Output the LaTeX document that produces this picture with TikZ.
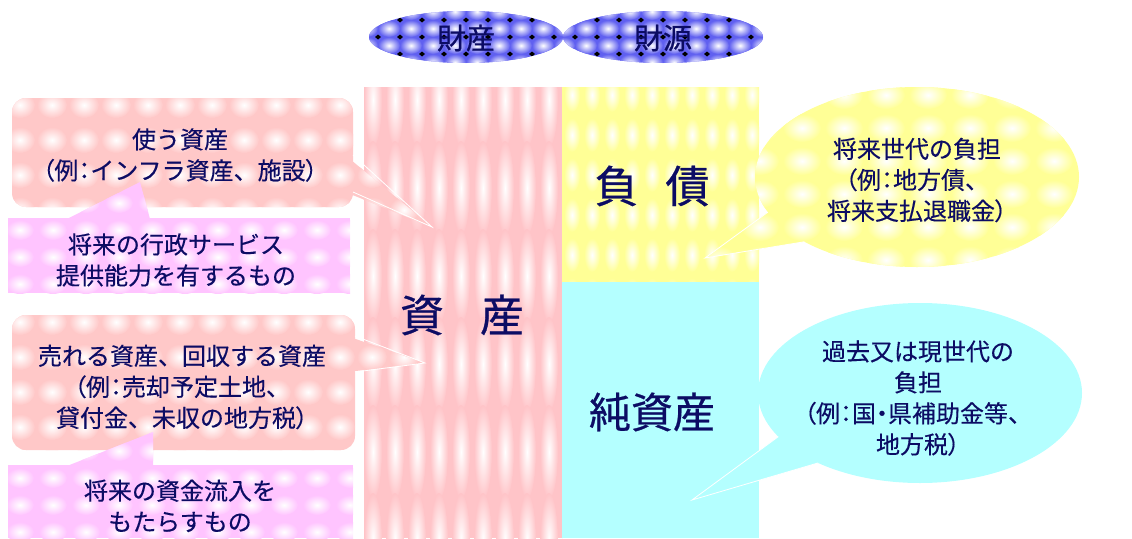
\documentclass[tikz,border=0pt]{standalone}
\usepackage{fontspec}
\setmainfont{Noto Sans CJK JP}[FakeBold=0.3]
\newfontfamily\pf{Noto Sans CJK JP}[RawFeature=+palt, FakeBold=0.3]
\newfontfamily\tf{Noto Sans CJK JP}[FakeBold=0.8]
\newfontfamily\bigfnt{Noto Sans CJK JP}[FakeBold=0.6]
\definecolor{navy}{RGB}{12,12,100}
\definecolor{pinkcol}{RGB}{255,196,200}
\definecolor{pinkc}{RGB}{255,200,200}
\definecolor{magc}{RGB}{255,196,255}
\definecolor{yelc}{RGB}{255,255,150}
\definecolor{cyanc}{RGB}{180,255,255}
\definecolor{bluec}{RGB}{96,96,240}
\newcommand\blobs[9]{%
  \foreach \i in {#1}{\foreach \j in {#2}{%
    \shade[inner color=white, outer color=#9] ({#3+(\i)*#4},{#5+(\j)*#6}) ellipse ({#7} and {#8});
  }}}
\newcommand\lp{{\pf （}}
\newcommand\rp{{\pf ）}}
\newcommand\cln{{\pf ：}}
\newcommand\nakaguro{{\pf ・}}
\tikzset{
  lbl/.style={text=navy, font=\fontsize{24pt}{31pt}\selectfont, align=center, inner sep=0pt},
  bigl/.style={text=navy, font=\bigfnt\fontsize{44pt}{50pt}\selectfont, inner sep=0pt},
  ttl/.style={text=navy, font=\tf\fontsize{29pt}{32pt}\selectfont, inner sep=0pt},
  ptredge/.style={draw=white, line width=0.8pt},
}
\begin{document}
\begin{tikzpicture}[x=1pt,y=-1pt]
\useasboundingbox (0,0) rectangle (1132,538);

% ---------- title ellipses ----------
\foreach \cx/\rx in {466/97, 663/100}{
  \fill[bluec] (\cx,37) ellipse ({\rx} and 26);
  \begin{scope}
    \clip (\cx,37) ellipse ({\rx} and 26);
    \blobs{-5,...,5}{-2,...,2}{\cx+11}{22}{45.5}{17}{11}{8.5}{bluec}
    \foreach \i in {-5,...,5}{\foreach \j in {-2,...,2}{
      \fill[black] ({\cx+\i*22},{37+\j*17}) ++(-3,0) -- ++(3,-2.5) -- ++(3,2.5) -- ++(-3,2.5) -- cycle;
    }}
  \end{scope}
}
\node[ttl] (zaisan) at (466,38) {財産};
\node[ttl] (zaigen) at (663,38) {財源};

% ---------- central column: assets ----------
\fill[pinkcol] (364,87) rectangle (562,538);
\begin{scope}
  \clip (364,87) rectangle (562,538);
  \blobs{-1,...,9}{-1,...,5}{373}{22}{100}{88}{9}{47}{pinkcol}
\end{scope}

% ---------- liabilities ----------
\fill[yelc] (562,87) rectangle (759,282);
\begin{scope}
  \clip (562,87) rectangle (759,282);
  \blobs{-1,...,10}{-1,...,5}{572}{20}{95}{40}{8}{17}{yelc}
\end{scope}

% ---------- net assets ----------
\fill[cyanc] (562,282) rectangle (759,538);

\node[bigl] (shisan) at (462,315) {資\hspace{36pt}産};
\node[bigl] (fusai) at (652,186) {負\hspace{27pt}債};
\node[bigl, font=\bigfnt\fontsize{42pt}{48pt}\selectfont] (junshisan) at (652,412) {純資産};

% ---------- pink callout 1 ----------
\fill[pinkc, rounded corners=14pt] (12,98) rectangle (353,207);
\begin{scope}
  \clip[rounded corners=14pt] (12,98) rectangle (353,207);
  \blobs{0,...,11}{-1,...,3}{20}{32}{105}{35}{15}{13}{pinkc}
\end{scope}
\fill[pinkc] (345,155) -- (432,227) -- (345,192) -- cycle;
\begin{scope}
  \clip (345,155) -- (432,227) -- (345,192) -- cycle;
  \blobs{10,...,13}{1,...,4}{20}{32}{105}{35}{15}{13}{pinkc}
\end{scope}
\draw[ptredge] (353,155) -- (432,227) -- (353,192);

% ---------- magenta box 1 ----------
\fill[magc] (8,218) rectangle (350,293);
\begin{scope}
  \clip (8,218) rectangle (350,293);
  \blobs{-1,...,11}{-1,...,3}{20}{33}{230}{27}{14}{10}{magc}
\end{scope}
\fill[magc] (67,219) -- (140,182) -- (150,219) -- cycle;
\begin{scope}
  \clip (67,219) -- (140,182) -- (150,219) -- cycle;
  \blobs{1,...,4}{-2,...,0}{20}{33}{230}{27}{14}{10}{magc}
\end{scope}

% ---------- pink callout 2 ----------
\fill[pinkc, rounded corners=14pt] (12,315) rectangle (355,450);
\begin{scope}
  \clip[rounded corners=14pt] (12,315) rectangle (355,450);
  \blobs{0,...,11}{-1,...,4}{20}{32}{322}{35}{15}{13}{pinkc}
\end{scope}
\fill[pinkc] (347,336) -- (425,363) -- (347,372) -- cycle;
\begin{scope}
  \clip (347,336) -- (425,363) -- (347,372) -- cycle;
  \blobs{10,...,13}{0,...,2}{20}{32}{322}{35}{15}{13}{pinkc}
\end{scope}
\draw[ptredge] (355,336) -- (425,363) -- (355,372);

% ---------- magenta box 2 ----------
\fill[magc] (8,465) rectangle (353,538);
\begin{scope}
  \clip (8,465) rectangle (353,538);
  \blobs{-1,...,11}{-1,...,3}{20}{33}{478}{27}{14}{10}{magc}
\end{scope}
\fill[magc] (67,466) -- (153,432) -- (153,466) -- cycle;
\begin{scope}
  \clip (67,466) -- (153,432) -- (153,466) -- cycle;
  \blobs{1,...,4}{-2,...,0}{20}{33}{478}{27}{14}{10}{magc}
\end{scope}

% ---------- yellow ellipse callout ----------
\coordinate (yc) at (917,177);
\coordinate (ytip) at (705,258);
\path (yc) ++(157:162 and 90) coordinate (yb1);
\path (yc) ++(134:162 and 90) coordinate (yb2);
\fill[yelc] (yc) ellipse (162 and 90);
\fill[yelc] (yb1) -- (ytip) -- (yb2) -- (yc) -- cycle;
\begin{scope}
  \clip (yc) ellipse (162 and 90);
  \blobs{0,...,8}{-1,...,6}{760}{42}{95}{33}{19}{14}{yelc}
\end{scope}
\begin{scope}
  \clip (yb1) -- (ytip) -- (yb2) -- (yc) -- cycle;
  \blobs{-2,...,1}{3,...,6}{760}{42}{95}{33}{19}{14}{yelc}
\end{scope}
\draw[ptredge] (yb1) -- (ytip) -- (yb2);

% ---------- cyan ellipse callout ----------
\coordinate (cc) at (920,393);
\coordinate (ctip) at (692,500);
\path (cc) ++(151:162 and 90) coordinate (cb1);
\path (cc) ++(129:162 and 90) coordinate (cb2);
\fill[cyanc] (cc) ellipse (162 and 90);
\fill[cyanc] (cb1) -- (ctip) -- (cb2) -- (cc) -- cycle;
\draw[ptredge] (cb1) -- (ctip) -- (cb2);

% ---------- texts ----------
\node[lbl] (use) at (180,155) {使う資産\\\lp 例\cln インフラ資産、施設\rp};
\node[lbl] (service) at (176,260) {将来の行政サービス\\提供能力を有するもの};
\node[lbl] (sell) at (182,387) {売れる資産、回収する資産\\\lp 例\cln 売却予定土地、\\貸付金、未収の地方税\rp};
\node[lbl] (inflow) at (180,506) {将来の資金流入を\\もたらすもの};
\node[lbl] (future) at (917,180) {将来世代の負担\\\lp 例\cln 地方債、\\将来支払退職金\rp};
\node[lbl] (past) at (918,398) {過去又は現世代の\\負担\\\lp 例\cln 国\nakaguro 県補助金等、\\地方税\rp};
\end{tikzpicture}
\end{document}
